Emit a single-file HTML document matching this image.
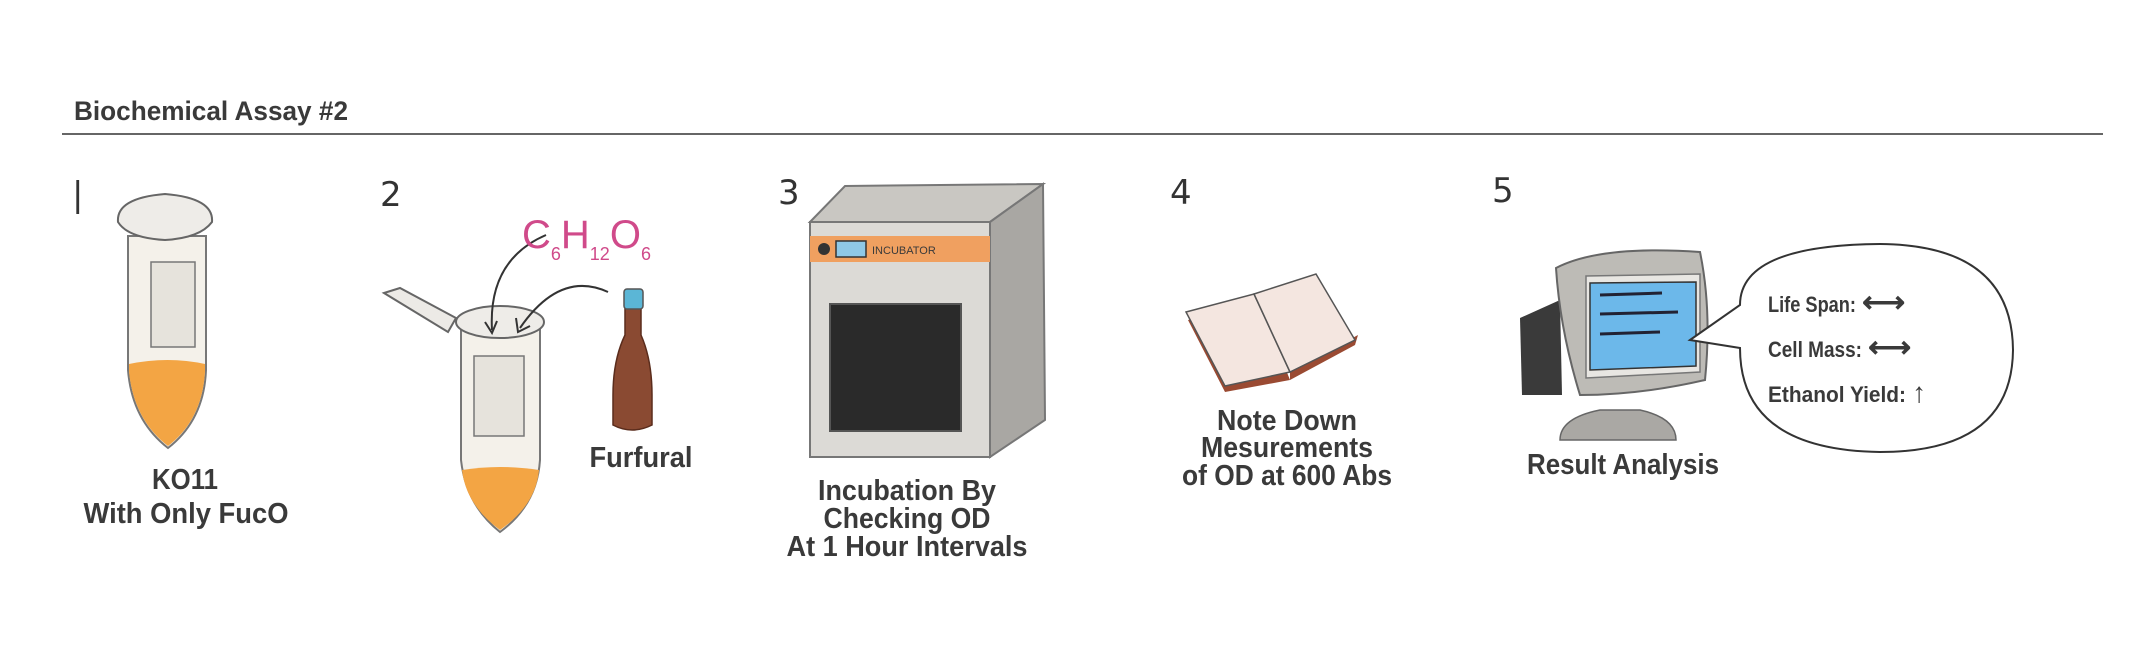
<!DOCTYPE html>
<html><head><meta charset="utf-8"><style>
html,body{margin:0;padding:0;background:#fff}
svg{display:block}
text{font-family:"Liberation Sans",sans-serif;font-weight:bold;fill:#3a3a3a}
.n{font-family:"DejaVu Sans","Liberation Sans",sans-serif;font-weight:normal;fill:#333;font-size:34px}
</style></head><body>
<svg width="2152" height="648" viewBox="0 0 2152 648" xmlns="http://www.w3.org/2000/svg">
<text x="74" y="120" font-size="27" textLength="274" lengthAdjust="spacingAndGlyphs">Biochemical Assay #2</text>
<line x1="62" y1="134" x2="2103" y2="134" stroke="#333" stroke-width="1.6"/>
<text class="n" x="72" y="206" font-size="36">|</text>
<text class="n" x="380" y="206">2</text>
<text class="n" x="778" y="204">3</text>
<text class="n" x="1170" y="204">4</text>
<text class="n" x="1492" y="202">5</text>

<!-- Tube 1 -->
<path d="M128 236 L206 236 L206 370 Q204 420 168 448 Q132 420 128 370 Z" fill="#f4f1ea" stroke="#777" stroke-width="2"/>
<path d="M129 364 Q168 356 205 364 L205 372 Q202 420 168 446 Q134 420 129 372 Z" fill="#f3a544"/>
<rect x="151" y="262" width="44" height="85" fill="#e6e3dc" stroke="#777" stroke-width="1.5"/>
<path d="M118 222 Q116 198 165 194 Q214 198 212 222 Q200 238 165 240 Q128 238 118 222 Z" fill="#eeece8" stroke="#666" stroke-width="2"/>
<text x="185" y="489" font-size="29" text-anchor="middle" textLength="66" lengthAdjust="spacingAndGlyphs">KO11</text>
<text x="186" y="523" font-size="29" text-anchor="middle" textLength="205" lengthAdjust="spacingAndGlyphs">With Only FucO</text>

<!-- Tube 2 -->
<path d="M384 293 L400 288 L456 318 L448 332 Z" fill="#eceae6" stroke="#666" stroke-width="2"/>
<path d="M461 325 L540 325 L540 460 Q537 505 500 532 Q466 505 461 460 Z" fill="#f4f1ea" stroke="#777" stroke-width="2"/>
<path d="M462 470 Q500 464 539 470 Q536 505 500 530 Q466 505 462 470 Z" fill="#f3a544"/>
<rect x="474" y="356" width="50" height="80" fill="#e6e3dc" stroke="#777" stroke-width="1.5"/>
<ellipse cx="500" cy="322" rx="44" ry="16" fill="#eeece8" stroke="#666" stroke-width="2"/>
<path d="M546 235 Q488 260 492 330" fill="none" stroke="#333" stroke-width="2"/>
<path d="M485 322 L492 333 L497 321" fill="none" stroke="#333" stroke-width="2"/>
<path d="M608 292 Q560 270 520 328" fill="none" stroke="#333" stroke-width="2"/>
<path d="M516 318 L518 332 L530 326" fill="none" stroke="#333" stroke-width="2"/>
<text x="522" y="248" font-size="40" style="fill:#d04a8a;font-weight:normal">C<tspan font-size="18" dy="12">6</tspan><tspan dy="-12">H</tspan><tspan font-size="18" dy="12">12</tspan><tspan dy="-12">O</tspan><tspan font-size="18" dy="12">6</tspan></text>
<path d="M625 305 L641 305 L641 335 Q652 360 652 395 L652 425 Q632 435 613 425 L613 395 Q613 360 625 335 Z" fill="#8a4a32" stroke="#5a2c1c" stroke-width="1.5"/>
<rect x="624" y="289" width="19" height="20" rx="3" fill="#5bb6d6" stroke="#555" stroke-width="1.5"/>
<text x="641" y="467" font-size="29" text-anchor="middle" textLength="103" lengthAdjust="spacingAndGlyphs">Furfural</text>

<!-- Incubator -->
<polygon points="810,222 845,186 1043,184 990,222" fill="#c9c7c2" stroke="#777" stroke-width="2"/>
<polygon points="990,222 1043,184 1045,420 990,457" fill="#a9a7a3" stroke="#777" stroke-width="2"/>
<rect x="810" y="222" width="180" height="235" fill="#dcdad6" stroke="#777" stroke-width="2"/>
<rect x="810" y="236" width="180" height="26" fill="#f0a060"/>
<circle cx="824" cy="249" r="6" fill="#333"/>
<rect x="836" y="241" width="30" height="16" fill="#8fc8e6" stroke="#333" stroke-width="1.5"/>
<text x="872" y="254" font-size="11" style="font-weight:normal">INCUBATOR</text>
<rect x="830" y="304" width="131" height="127" fill="#2a2a2a" stroke="#555" stroke-width="2"/>
<text x="907" y="500" font-size="29" text-anchor="middle" textLength="178" lengthAdjust="spacingAndGlyphs">Incubation By</text>
<text x="907" y="528" font-size="29" text-anchor="middle" textLength="167" lengthAdjust="spacingAndGlyphs">Checking OD</text>
<text x="907" y="556" font-size="29" text-anchor="middle" textLength="241" lengthAdjust="spacingAndGlyphs">At 1 Hour Intervals</text>

<!-- Book -->
<polygon points="1188,320 1258,300 1290,380 1225,392" fill="#9a4a32"/>
<polygon points="1290,380 1355,345 1358,335 1290,372" fill="#9a4a32"/>
<polygon points="1186,312 1254,294 1290,372 1225,386" fill="#f4e6e0" stroke="#555" stroke-width="1.5"/>
<polygon points="1254,294 1316,274 1355,340 1290,372" fill="#f4e6e0" stroke="#555" stroke-width="1.5"/>
<text x="1287" y="430" font-size="29" text-anchor="middle" textLength="140" lengthAdjust="spacingAndGlyphs">Note Down</text>
<text x="1287" y="457" font-size="29" text-anchor="middle" textLength="172" lengthAdjust="spacingAndGlyphs">Mesurements</text>
<text x="1287" y="485" font-size="29" text-anchor="middle" textLength="210" lengthAdjust="spacingAndGlyphs">of OD at 600 Abs</text>

<!-- Computer -->
<polygon points="1520,318 1560,300 1562,395 1522,395" fill="#3a3a3a"/>
<path d="M1560 440 Q1560 418 1600 410 L1640 410 Q1676 418 1676 440 Z" fill="#aaa8a4" stroke="#666" stroke-width="1.5"/>
<path d="M1556 268 Q1600 245 1700 252 Q1712 310 1705 380 Q1640 395 1580 395 Q1560 330 1556 268 Z" fill="#bdbbb6" stroke="#666" stroke-width="2"/>
<path d="M1586 276 L1700 274 L1700 372 L1586 378 Z" fill="#e8e6e2" stroke="#777" stroke-width="1.5"/>
<path d="M1590 283 L1696 282 L1696 366 L1590 370 Z" fill="#6cb8ea" stroke="#333" stroke-width="1.5"/>
<line x1="1600" y1="295" x2="1662" y2="293" stroke="#223" stroke-width="3"/>
<line x1="1600" y1="314" x2="1678" y2="312" stroke="#223" stroke-width="3"/>
<line x1="1600" y1="334" x2="1660" y2="332" stroke="#223" stroke-width="3"/>
<!-- bubble -->
<path d="M1690 340 L1740 305 Q1740 245 1880 244 Q2012 245 2013 350 Q2012 452 1880 452 Q1740 450 1740 348 Z" fill="#fff" stroke="#333" stroke-width="2"/>
<text x="1768" y="312" font-size="22"><tspan textLength="88" lengthAdjust="spacingAndGlyphs">Life Span:</tspan> <tspan font-size="30">⟷</tspan></text>
<text x="1768" y="357" font-size="22"><tspan textLength="94" lengthAdjust="spacingAndGlyphs">Cell Mass:</tspan> <tspan font-size="30">⟷</tspan></text>
<text x="1768" y="402" font-size="22"><tspan textLength="138" lengthAdjust="spacingAndGlyphs">Ethanol Yield:</tspan> <tspan font-size="28">↑</tspan></text>
<text x="1623" y="474" font-size="29" text-anchor="middle" textLength="192" lengthAdjust="spacingAndGlyphs">Result Analysis</text>
</svg>
</body></html>
